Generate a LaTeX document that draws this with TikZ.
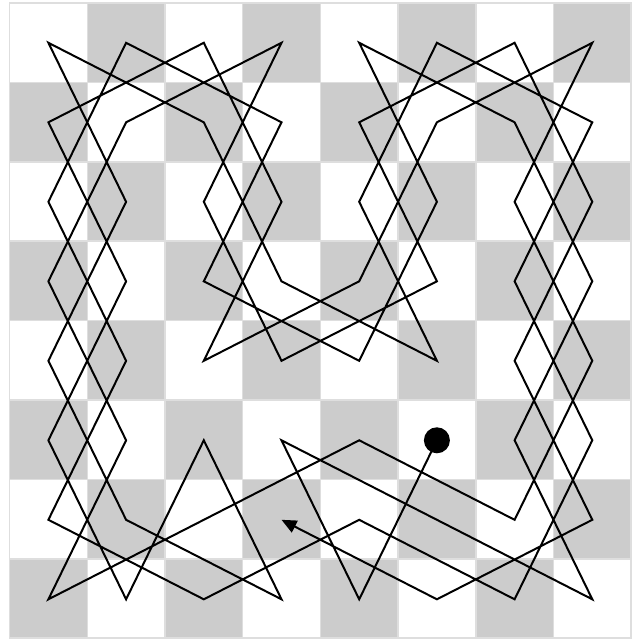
\documentclass[tikz,border=0pt]{standalone}
\usetikzlibrary{arrows.meta}
\definecolor{boardgray}{RGB}{204,204,204}
\definecolor{edgegray}{RGB}{222,222,222}
\begin{document}
\begin{tikzpicture}[x=1pt,y=-1pt,
  sq/.style={draw=edgegray,line width=1.5pt},
  tour/.style={line width=2pt,line join=miter,-{Triangle[length=15pt,width=13pt]}},
  startdot/.style={fill=black}]
\useasboundingbox (0,0) rectangle (636,640);
\foreach \c in {0,...,7}{
  \foreach \r in {0,...,7}{
    \pgfmathtruncatemacro{\p}{mod(\c+\r,2)}
    \ifnum\p=0 \def\fc{white}\else\def\fc{boardgray}\fi
    \path[sq,fill=\fc] (9.6+77.7*\c,3+79.4*\r) rectangle ++(77.7,79.4);
    \coordinate (s-\c-\r) at (48.4+77.7*\c,42.8+79.5*\r);
  }
}
\draw[tour] (s-5-5) -- (s-4-7) -- (s-3-5) -- (s-5-6) -- (s-7-7) -- (s-6-5)
  -- (s-7-3) -- (s-6-1) -- (s-4-0) -- (s-5-2) -- (s-4-4) -- (s-2-3)
  -- (s-3-1) -- (s-1-0) -- (s-0-2) -- (s-1-4) -- (s-0-6) -- (s-2-7)
  -- (s-4-6) -- (s-6-7) -- (s-7-5) -- (s-6-3) -- (s-7-1) -- (s-5-0)
  -- (s-4-2) -- (s-5-4) -- (s-3-3) -- (s-2-1) -- (s-0-0) -- (s-1-2)
  -- (s-0-4) -- (s-1-6) -- (s-3-7) -- (s-2-5) -- (s-1-7) -- (s-0-5)
  -- (s-1-3) -- (s-0-1) -- (s-2-0) -- (s-3-2) -- (s-2-4) -- (s-4-3)
  -- (s-5-1) -- (s-7-0) -- (s-6-2) -- (s-7-4) -- (s-6-6) -- (s-4-5)
  -- (s-2-6) -- (s-0-7) -- (s-1-5) -- (s-0-3) -- (s-1-1) -- (s-3-0)
  -- (s-2-2) -- (s-3-4) -- (s-5-3) -- (s-4-1) -- (s-6-0) -- (s-7-2)
  -- (s-6-4) -- (s-7-6) -- (s-5-7) -- (s-3-6);
\fill[startdot] (s-5-5) circle[radius=13pt];
\end{tikzpicture}
\end{document}
